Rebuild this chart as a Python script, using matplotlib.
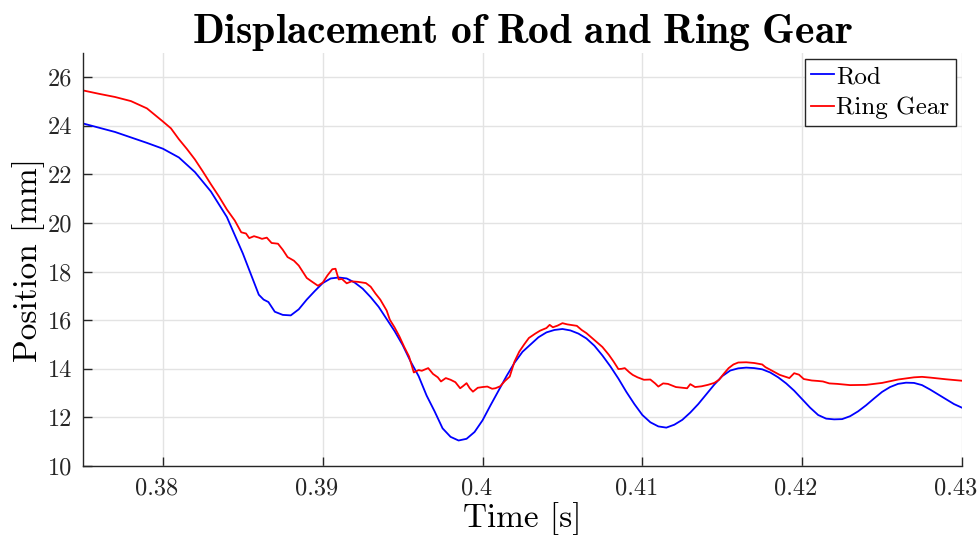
import matplotlib
matplotlib.use("Agg")
import matplotlib.pyplot as plt
import matplotlib.transforms as mtransforms

# Rod displacement samples: time [s], position [mm]
rod_t = [0.3750, 0.3770, 0.3790, 0.3800, 0.3810, 0.3820, 0.3830, 0.3840, 0.3850,
         0.3855, 0.3860, 0.3863, 0.3866, 0.3870, 0.3875, 0.3880, 0.3885, 0.3890,
         0.3895, 0.3900, 0.3905, 0.3910, 0.3915, 0.3920, 0.3925, 0.3930, 0.3935,
         0.3940, 0.3945, 0.3950, 0.3955, 0.3960, 0.3965, 0.3970, 0.3975, 0.3980,
         0.3985, 0.3990, 0.3995, 0.4000, 0.4005, 0.4010, 0.4015, 0.4020, 0.4025,
         0.4030, 0.4035, 0.4040, 0.4045, 0.4050, 0.4055, 0.4060, 0.4065, 0.4070,
         0.4075, 0.4080, 0.4085, 0.4090, 0.4095, 0.4100, 0.4105, 0.4110, 0.4115,
         0.4120, 0.4125, 0.4130, 0.4135, 0.4140, 0.4145, 0.4150, 0.4155, 0.4160,
         0.4165, 0.4170, 0.4175, 0.4180, 0.4185, 0.4190, 0.4195, 0.4200, 0.4205,
         0.4210, 0.4215, 0.4220, 0.4225, 0.4230, 0.4235, 0.4240, 0.4245, 0.4250,
         0.4255, 0.4260, 0.4265, 0.4270, 0.4275, 0.4280, 0.4285, 0.4290, 0.4295,
         0.4300]
rod_y = [24.10, 23.75, 23.30, 23.06, 22.70, 22.10, 21.30, 20.25, 18.75,
         17.90, 17.05, 16.85, 16.75, 16.35, 16.22, 16.20, 16.45, 16.85,
         17.20, 17.53, 17.72, 17.76, 17.72, 17.55, 17.30, 16.95, 16.55,
         16.05, 15.55, 14.98, 14.30, 13.70, 12.90, 12.25, 11.55, 11.20,
         11.05, 11.12, 11.40, 11.88, 12.50, 13.10, 13.70, 14.25, 14.70,
         15.00, 15.30, 15.50, 15.60, 15.64, 15.58, 15.45, 15.25, 14.95,
         14.55, 14.10, 13.60, 13.05, 12.55, 12.10, 11.80, 11.63, 11.58,
         11.70, 11.90, 12.20, 12.55, 12.95, 13.35, 13.70, 13.93, 14.02,
         14.05, 14.03, 13.98, 13.85, 13.65, 13.40, 13.10, 12.75, 12.40,
         12.10, 11.95, 11.92, 11.93, 12.05, 12.25, 12.50, 12.78, 13.05,
         13.25, 13.38, 13.43, 13.42, 13.33, 13.15, 12.95, 12.75, 12.55,
         12.40]

# Ring gear displacement samples: time [s], position [mm]
ring_t = [0.3750, 0.3760, 0.3770, 0.3780, 0.3790, 0.3795, 0.3800, 0.3805, 0.3810,
          0.3815, 0.3820, 0.3825, 0.3830, 0.3835, 0.3840, 0.3845, 0.3849, 0.3852,
          0.3854, 0.3857, 0.3860, 0.3862, 0.3865, 0.3868, 0.3872, 0.3875, 0.3878,
          0.3882, 0.3885, 0.3890, 0.3893, 0.3897, 0.3900, 0.3903, 0.3906, 0.3908,
          0.3910, 0.3912, 0.3915, 0.3918, 0.3922, 0.3927, 0.3930, 0.3933, 0.3936,
          0.3940, 0.3942, 0.3945, 0.3948, 0.3951, 0.3954, 0.3957, 0.3960, 0.3962,
          0.3966, 0.3969, 0.3972, 0.3974, 0.3977, 0.3980, 0.3983, 0.3986, 0.3988,
          0.3990, 0.3992, 0.3994, 0.3997, 0.4000, 0.4003, 0.4006, 0.4008, 0.4011,
          0.4014, 0.4017, 0.4020, 0.4023, 0.4026, 0.4029, 0.4033, 0.4036, 0.4040,
          0.4042, 0.4044, 0.4047, 0.4050, 0.4053, 0.4056, 0.4059, 0.4062, 0.4065,
          0.4068, 0.4071, 0.4075, 0.4079, 0.4082, 0.4085, 0.4087, 0.4089, 0.4092,
          0.4094, 0.4097, 0.4101, 0.4105, 0.4108, 0.4110, 0.4113, 0.4116, 0.4121,
          0.4125, 0.4128, 0.4130, 0.4133, 0.4137, 0.4141, 0.4145, 0.4148, 0.4151,
          0.4154, 0.4157, 0.4160, 0.4165, 0.4170, 0.4175, 0.4177, 0.4182, 0.4186,
          0.4192, 0.4195, 0.4198, 0.4201, 0.4206, 0.4210, 0.4213, 0.4217, 0.4222,
          0.4230, 0.4240, 0.4250, 0.4260, 0.4270, 0.4275, 0.4280, 0.4290, 0.4300]
ring_y = [25.46, 25.32, 25.19, 25.02, 24.72, 24.45, 24.18, 23.90, 23.45,
          23.05, 22.62, 22.12, 21.60, 21.10, 20.56, 20.10, 19.62, 19.57,
          19.38, 19.46, 19.40, 19.35, 19.40, 19.18, 19.15, 18.90, 18.60,
          18.45, 18.25, 17.74, 17.60, 17.42, 17.55, 17.85, 18.10, 18.12,
          17.68, 17.70, 17.52, 17.60, 17.58, 17.53, 17.38, 17.10, 16.85,
          16.40, 16.02, 15.70, 15.33, 14.90, 14.51, 13.85, 13.95, 13.92,
          14.03, 13.79, 13.65, 13.48, 13.62, 13.55, 13.45, 13.20, 13.30,
          13.41, 13.20, 13.06, 13.22, 13.25, 13.27, 13.18, 13.20, 13.28,
          13.50, 13.68, 14.30, 14.71, 15.00, 15.27, 15.45, 15.57, 15.68,
          15.81, 15.71, 15.78, 15.88, 15.83, 15.80, 15.77, 15.60, 15.47,
          15.30, 15.13, 14.90, 14.58, 14.30, 13.99, 14.00, 14.03, 13.85,
          13.75, 13.65, 13.55, 13.56, 13.40, 13.27, 13.40, 13.38, 13.25,
          13.22, 13.20, 13.37, 13.25, 13.28, 13.34, 13.42, 13.55, 13.80,
          14.03, 14.18, 14.26, 14.27, 14.24, 14.18, 14.07, 13.89, 13.75,
          13.62, 13.82, 13.76, 13.58, 13.52, 13.50, 13.48, 13.40, 13.38,
          13.33, 13.34, 13.42, 13.56, 13.65, 13.67, 13.64, 13.57, 13.51]

x_ticks = [0.38, 0.39, 0.40, 0.41, 0.42, 0.43]
x_tick_labels = ["0.38", "0.39", "0.4", "0.41", "0.42", "0.43"]
y_ticks = [10, 12, 14, 16, 18, 20, 22, 24, 26]
y_tick_labels = ["10", "12", "14", "16", "18", "20", "22", "24", "26"]

plt.rcParams["font.family"] = "serif"
plt.rcParams["font.serif"] = ["cmr10"]
plt.rcParams["mathtext.fontset"] = "cm"
plt.rcParams["axes.formatter.use_mathtext"] = True

fig = plt.figure(figsize=(9.79, 5.37), dpi=100)
ax = fig.add_axes([0.0848, 0.1322, 0.8978, 0.7691])

ax.plot(rod_t, rod_y, color=(0, 0, 1), lw=1.3, label="Rod")
ax.plot(ring_t, ring_y, color=(1, 0, 0), lw=1.3, label="Ring Gear")

ax.set_xlim(0.375, 0.43)
ax.set_ylim(10, 27)
ax.set_xticks(x_ticks)
ax.set_xticklabels(x_tick_labels)
ax.set_yticks(y_ticks)
ax.set_yticklabels(y_tick_labels)

ax.grid(True, color="#e3e3e3", lw=1.0)
ax.set_axisbelow(True)
for side in ("top", "right"):
    ax.spines[side].set_visible(False)
for side in ("left", "bottom"):
    ax.spines[side].set_color("#262626")
    ax.spines[side].set_linewidth(1.0)

ax.tick_params(direction="in", length=6.5, width=1.0, color="#262626",
               labelsize=17.5, labelcolor="#262626")
ax.tick_params(axis="y", pad=8)
ax.tick_params(axis="x", pad=8)

# nudge the time labels slightly left so the last one stays inside the figure
shift = mtransforms.ScaledTranslation(-6 / 100, 0, fig.dpi_scale_trans)
for lbl in ax.get_xticklabels():
    lbl.set_transform(lbl.get_transform() + shift)

ax.set_xlabel("Time [s]", fontsize=24, labelpad=2)
ax.set_ylabel("Position [mm]", fontsize=24, labelpad=2)
ax.set_title(r"$\mathbf{Displacement\ of\ Rod\ and\ Ring\ Gear}$",
             fontsize=30, pad=3)

leg = ax.legend(loc="upper right", fontsize=18, handlelength=0.9,
                handletextpad=0.1, borderpad=0.25, labelspacing=0.35,
                borderaxespad=0.25, fancybox=False, framealpha=1,
                edgecolor="#262626")
leg.get_frame().set_linewidth(1.0)

fig.savefig("out.png", dpi=100)
